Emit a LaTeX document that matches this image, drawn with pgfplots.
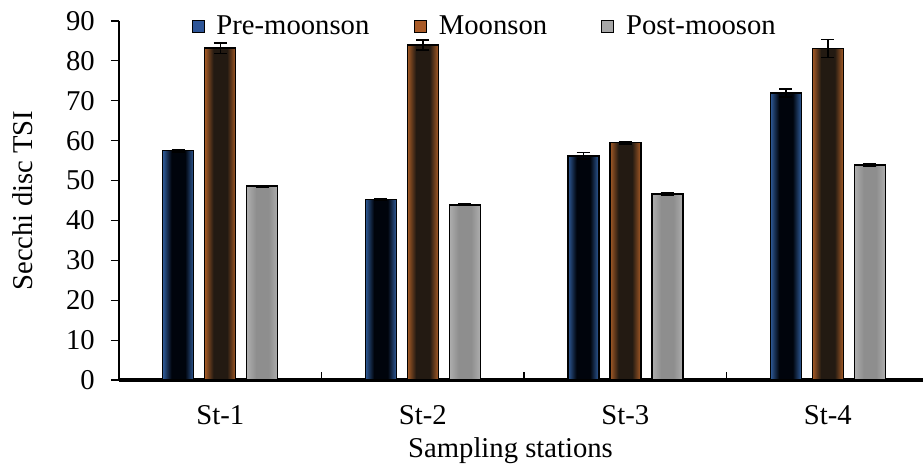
\documentclass[border=0pt]{standalone}
\usepackage{fontspec}
\setmainfont{Liberation Serif}
\usepackage{pgfplots}
\usepackage{pgfplotstable}
\pgfplotsset{compat=1.18}

% bar shading: bright edges, dark core
\definecolor{preEdge}{HTML}{2F5B99}
\definecolor{preMid}{HTML}{00040C}
\definecolor{preLeg}{HTML}{2E5597}
\definecolor{monEdge}{HTML}{A65B26}
\definecolor{monMid}{HTML}{231A12}
\definecolor{monLeg}{HTML}{A95B28}
\definecolor{postEdge}{HTML}{AEAEAE}
\definecolor{postMid}{HTML}{8E8E8E}
\definecolor{postLeg}{HTML}{A6A6A6}

\pgfdeclarehorizontalshading{preShade}{100bp}{color(0bp)=(preEdge); color(25bp)=(preEdge);
  color(39bp)=(preMid); color(61bp)=(preMid); color(75bp)=(preEdge); color(100bp)=(preEdge)}
\pgfdeclarehorizontalshading{monShade}{100bp}{color(0bp)=(monEdge); color(25bp)=(monEdge);
  color(39bp)=(monMid); color(61bp)=(monMid); color(75bp)=(monEdge); color(100bp)=(monEdge)}
\pgfdeclarehorizontalshading{postShade}{100bp}{color(0bp)=(postEdge); color(25bp)=(postEdge);
  color(40bp)=(postMid); color(60bp)=(postMid); color(75bp)=(postEdge); color(100bp)=(postEdge)}

% Secchi disc TSI per station and season (mean and error)
\pgfplotstableread{
x  pre   preerr  mon   monerr  post  posterr
0  57.5  0.3     83.2  1.3     48.6  0.2
1  45.2  0.2     84.0  1.25    43.9  0.2
2  56.2  0.8     59.5  0.3     46.6  0.3
3  71.9  1.0     83.1  2.2     53.9  0.3
}\tsidata

\newcommand{\lbl}{\fontsize{21.5}{25}\selectfont}

\begin{document}
\begin{tikzpicture}
\begin{axis}[
  scale only axis, width=603pt, height=269.25pt,
  xmin=-0.5, xmax=3.47, ymin=0, ymax=90,
  axis x line*=bottom, axis y line*=left,
  x axis line style={line width=2.8pt,-},
  y axis line style={line width=0.9pt,-},
  ybar, bar width=23.25pt,
  ytick={0,10,...,90},
  xtick={-0.5,0.5,1.5,2.5}, xticklabels={},
  extra x ticks={0,1,2,3},
  extra x tick labels={St-1,St-2,St-3,St-4},
  extra x tick style={major tick length=0pt},
  tick align=inside, major tick length=6pt,
  ytick style={xshift=-6pt, line width=0.9pt, black},
  xtick style={line width=1.2pt, black},
  tick label style={font=\lbl},
  /pgf/number format/assume math mode=true,
  yticklabel style={anchor=east, inner sep=0pt, xshift=-18pt},
  xticklabel style={anchor=base, yshift=-33.75pt},
  ylabel={Secchi disc TSI},
  ylabel style={at={(axis description cs:-0.107,0.5)}, anchor=base, font=\lbl},
  xlabel={Sampling stations},
  xlabel style={at={(axis description cs:0.487,-0.2145)}, anchor=base, font=\lbl},
  legend columns=3,
  legend cell align=left,
  legend style={at={(axis description cs:0.085,0.985)}, anchor=west,
    draw=none, fill=none, font=\lbl,
    /tikz/every even column/.append style={column sep=31.5pt}},
  barbase/.style={ybar, draw=black, line width=1.1pt, forget plot},
  preBar/.style={barbase, bar shift=-31.5pt, shading=preShade},
  monBar/.style={barbase, bar shift=0pt, shading=monShade},
  postBar/.style={barbase, bar shift=31.5pt, shading=postShade},
  errstyle/.style={ybar, draw=none, fill=none, forget plot,
    error bars/.cd, y dir=both, y explicit,
    error bar style={line width=1.1pt, draw=black},
    error mark options={rotate=90, mark size=5pt, line width=1.1pt, draw=black}},
  legbox/.style={legend image code/.code={
    \draw[draw=black, line width=0.9pt, fill=#1] (0pt,-4.5pt) rectangle (9pt,4.5pt);
    \path (16pt,0pt);}},
]
% one plot per bar, so each bar gets its own shading
\pgfplotsinvokeforeach{0,1,2,3}{
  \addplot[preBar, restrict x to domain=#1:#1] table[x=x, y=pre]{\tsidata};
  \addplot[monBar, restrict x to domain=#1:#1] table[x=x, y=mon]{\tsidata};
  \addplot[postBar, restrict x to domain=#1:#1] table[x=x, y=post]{\tsidata};
}

% error bars on top of the bars
\addplot[bar shift=-31.5pt, errstyle] table[x=x, y=pre, y error=preerr]{\tsidata};
\addplot[bar shift=0pt, errstyle] table[x=x, y=mon, y error=monerr]{\tsidata};
\addplot[bar shift=31.5pt, errstyle] table[x=x, y=post, y error=posterr]{\tsidata};

\addlegendimage{legbox=preLeg}
\addlegendentry{Pre-moonson}
\addlegendimage{legbox=monLeg}
\addlegendentry{Moonson\kern7pt}
\addlegendimage{legbox=postLeg}
\addlegendentry{Post-mooson}
\end{axis}
\pgfresetboundingbox
\path[use as bounding box] ([shift={(-89.25pt,-64.1pt)}]current axis.south west) rectangle ([shift={(0pt,15.75pt)}]current axis.north east);
\end{tikzpicture}
\end{document}
